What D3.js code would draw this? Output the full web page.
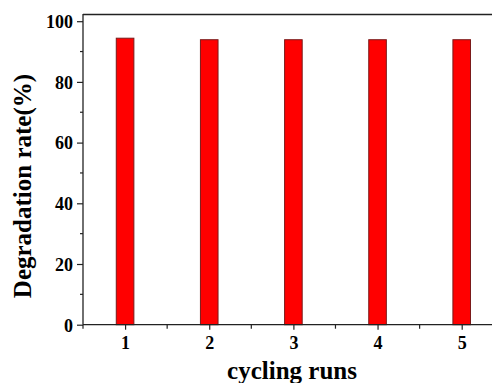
<!DOCTYPE html>
<html>
<head>
<meta charset="utf-8">
<script src="https://cdn.jsdelivr.net/npm/d3@7"></script>
<style>
  body { margin: 0; background: #fff; }
  svg text { font-family: "Liberation Serif", "Times New Roman", serif !important; font-weight: bold; fill: #000; }
</style>
</head>
<body>
<script>
const runs = [1, 2, 3, 4, 5];
const rates = [94.4, 93.9, 93.9, 93.9, 93.9];
const yTicks = [0, 20, 40, 60, 80, 100];

const width = 492, height = 383;
const margin = { left: 83, top: 14, right: 0, bottom: 58 };

const svg = d3.select("body").append("svg")
  .attr("width", width)
  .attr("height", height);

const x = d3.scaleLinear().domain([0.5, 5.36]).range([margin.left, width]);
const y = d3.scaleLinear().domain([0, 100]).range([324.7, 21.2]);

// bars
svg.selectAll("rect.bar")
  .data(runs)
  .enter()
  .append("rect")
  .attr("class", "bar")
  .attr("x", (d) => x(d) - 8.8)
  .attr("width", 17.6)
  .attr("y", (d, i) => y(rates[i]))
  .attr("height", (d, i) => y(0) - y(rates[i]))
  .attr("fill", "#ff0000")
  .attr("stroke", "#7a1a1a")
  .attr("stroke-width", 1);

// top frame line
svg.append("line")
  .attr("x1", margin.left).attr("x2", width)
  .attr("y1", margin.top + 0.5).attr("y2", margin.top + 0.5)
  .attr("stroke", "#222").attr("stroke-width", 1.3);

// y axis
const yAxis = svg.append("g")
  .attr("transform", `translate(${margin.left},0)`)
  .call(d3.axisLeft(y).tickValues(yTicks).tickSize(6).tickPadding(4).tickFormat(d3.format("d")));
yAxis.select(".domain").attr("d", `M0,${margin.top}V${y(0)}`).attr("stroke", "#222").attr("stroke-width", 1.3);
yAxis.selectAll(".tick line").attr("stroke", "#222").attr("stroke-width", 1.2);
yAxis.selectAll(".tick text").style("font-size", "18px").attr("dy", "0.35em");

// y minor ticks
svg.append("g")
  .selectAll("line")
  .data([10, 30, 50, 70, 90])
  .enter()
  .append("line")
  .attr("x1", margin.left - 3).attr("x2", margin.left)
  .attr("y1", (d) => y(d)).attr("y2", (d) => y(d))
  .attr("stroke", "#222").attr("stroke-width", 1.2);

// x axis
const xAxis = svg.append("g")
  .attr("transform", `translate(0,${y(0)})`)
  .call(d3.axisBottom(x).tickValues(runs).tickSize(5).tickPadding(7).tickFormat(d3.format("d")));
xAxis.select(".domain").attr("d", `M${margin.left},0H${width}`).attr("stroke", "#222").attr("stroke-width", 1.3);
xAxis.selectAll(".tick line").attr("stroke", "#222").attr("stroke-width", 1.2);
xAxis.selectAll(".tick text").style("font-size", "18px");

// x minor ticks
svg.append("g")
  .selectAll("line")
  .data([0.5, 1.5, 2.5, 3.5, 4.5])
  .enter()
  .append("line")
  .attr("x1", (d) => x(d)).attr("x2", (d) => x(d))
  .attr("y1", y(0)).attr("y2", y(0) + 4)
  .attr("stroke", "#222").attr("stroke-width", 1.2);

// axis titles
svg.append("text")
  .attr("x", 292)
  .attr("y", 379)
  .attr("text-anchor", "middle")
  .style("font-size", "25px")
  .text("cycling runs");

svg.append("text")
  .attr("transform", "translate(31,186) rotate(-90)")
  .attr("text-anchor", "middle")
  .style("font-size", "25px")
  .text("Degradation rate(%)");
</script>
</body>
</html>
